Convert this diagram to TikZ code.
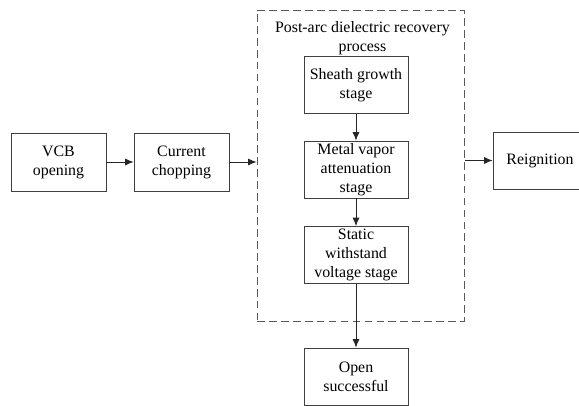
\documentclass[tikz,border=0pt]{standalone}
\usepackage{fontspec}
\setmainfont{Liberation Serif}
\newfontfamily\boxfont{Liberation Serif}
\usetikzlibrary{arrows.meta, positioning}

\begin{document}
\begin{tikzpicture}[
    every node/.style={font=\boxfont\fontsize{11.3}{13.5}\selectfont, align=center},
    step box/.style ={draw=black!75, rectangle, line width=0.6pt, inner sep=1pt,
                      minimum height=1.45cm, minimum width=2.375cm},
    stage/.style    ={draw=black!75, rectangle, line width=0.6pt, inner sep=1pt,
                      minimum height=1.425cm, minimum width=2.6cm},
    group/.style    ={draw=black!65, rectangle, line width=0.7pt,
                      dash pattern=on 5.5pt off 3pt},
    arr/.style={-{Latex[length=6pt, width=5pt]}, line width=0.6pt, black!85}
]
\clip (0,0) rectangle (14.475,10.125);
\useasboundingbox (0,0) rectangle (14.475,10.125);

\node[group, minimum width=5.175cm, minimum height=7.775cm] (proc) at (9.0125,5.9875) {};
\node (title) at (9.06,9.175) {Post-arc dielectric recovery\\process};

\node[step box] (vcb)     at (1.4625,6.075) {VCB\\opening};
\node[step box] (chop)    at (4.5375,6.075) {Current\\chopping};
\node[stage]    (sheath)  at (8.9,8.0)      {Sheath growth\\stage};
\node[stage]    (metal)   at (8.9,5.8875)   {Metal vapor\\attenuation\\stage};
\node[stage]    (static)  at (8.9,3.75)     {Static\\withstand\\voltage stage};
\node[step box, minimum width=2.35cm, minimum height=1.425cm] (reign) at (13.5,6.1125) {Reignition};
\node[stage]    (open)    at (8.9,0.7125)   {Open\\successful};

\draw[arr] (vcb) -- (chop);
\draw[arr] (chop) -- (chop -| proc.west);
\draw[arr] (sheath) -- (metal);
\draw[arr] (metal) -- (static);
\draw[arr] (static) -- (open);
\draw[arr] (proc.east |- reign) -- (reign);
\end{tikzpicture}
\end{document}
